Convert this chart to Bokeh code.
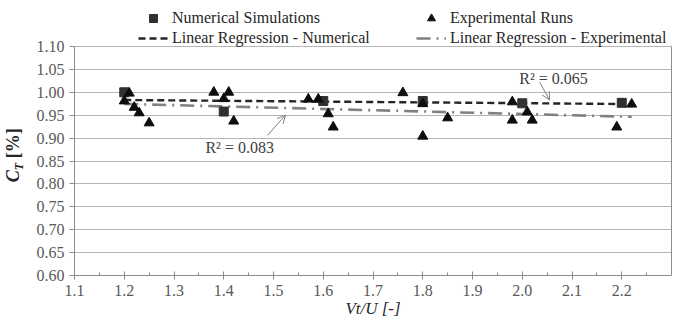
import numpy as np
from bokeh.plotting import figure
from bokeh.layouts import row
from bokeh.models import (Range1d, SingleIntervalTicker, FixedTicker, NumeralTickFormatter, Legend,
                          LegendItem, Label, Arrow, OpenHead, Div, LinearAxis)
from bokeh.embed import file_html
from bokeh.resources import INLINE

# ---- data ----
num_x = [1.2, 1.4, 1.6, 1.8, 2.0, 2.2]
num_y = [1.000, 0.958, 0.981, 0.981, 0.976, 0.977]

exp_x = [1.20, 1.21, 1.22, 1.23, 1.25, 1.38, 1.40, 1.41, 1.42, 1.57, 1.59, 1.61, 1.62,
         1.76, 1.80, 1.80, 1.85, 1.98, 1.98, 2.01, 2.02, 2.19, 2.22]
exp_y = [0.981, 0.998, 0.967, 0.955, 0.933, 1.000, 0.986, 1.000, 0.937, 0.985, 0.985, 0.953, 0.924,
         0.999, 0.904, 0.975, 0.944, 0.979, 0.939, 0.957, 0.939, 0.924, 0.974]

y_ticks = [0.60, 0.65, 0.70, 0.75, 0.80, 0.85, 0.90, 0.95, 1.00, 1.05, 1.10]
x_min, x_max = 1.1, 2.3
y_min, y_max = 0.60, 1.10

r2_num_text = "R² = 0.065"
r2_exp_text = "R² = 0.083"

SERIF = "Liberation Serif"

def fit_line(xs, ys):
    k, b = np.polyfit(xs, ys, 1)
    x0, x1 = min(xs), max(xs)
    return [x0, x1], [k * x0 + b, k * x1 + b]

# layout geometry (pixels)
YDIV_W = 24
W, H = 679, 326
FRAME_L, FRAME_R, FRAME_B = 74, 671, 275
AXIS_TOP = 46          # pixel row of y_max
FRAME_T = 6            # frame extends above the axis so the legend can sit inside it
px_per_unit = (FRAME_B - AXIS_TOP) / (y_max - y_min)
y_top = y_max + (AXIS_TOP - FRAME_T) / px_per_unit

p = figure(width=W - YDIV_W, height=H, output_backend="svg", toolbar_location=None,
           x_range=Range1d(x_min, x_max), y_range=Range1d(y_min, y_top),
           min_border_left=FRAME_L - YDIV_W, min_border_right=W - FRAME_R,
           min_border_top=FRAME_T, min_border_bottom=H - FRAME_B)
p.background_fill_color = "white"
p.border_fill_color = "white"
p.outline_line_color = None

# axes
p.xaxis.ticker = SingleIntervalTicker(interval=0.1, num_minor_ticks=2)
p.yaxis.ticker = FixedTicker(ticks=y_ticks)
p.yaxis.bounds = (y_min, y_max)
p.xaxis.formatter = NumeralTickFormatter(format="0.0")
p.yaxis.formatter = NumeralTickFormatter(format="0.00")
for ax in (p.xaxis[0], p.yaxis[0]):
    ax.axis_line_color = "#8c8c8c"
    ax.major_tick_line_color = "#8c8c8c"
    ax.minor_tick_line_color = "#8c8c8c"
    ax.major_label_text_font = SERIF
    ax.major_label_text_font_size = "16px"
    ax.major_label_text_color = "#595959"
p.xaxis.major_tick_in = 4
p.xaxis.major_tick_out = 4
p.xaxis.minor_tick_in = 3
p.xaxis.minor_tick_out = 0
p.xaxis.major_label_standoff = 5
p.yaxis.major_tick_in = 0
p.yaxis.major_tick_out = 5
p.yaxis.minor_tick_in = 0
p.yaxis.minor_tick_out = 0
p.yaxis.major_label_standoff = 5

p.xaxis.axis_label = "Vt/U [-]"
p.xaxis.axis_label_text_font = SERIF
p.xaxis.axis_label_text_font_style = "italic"
p.xaxis.axis_label_text_font_size = "17px"
p.xaxis.axis_label_text_color = "#262626"
p.xaxis.axis_label_standoff = 0

# right border of the plot area (an axis with no ticks)
right_axis = LinearAxis(ticker=FixedTicker(ticks=[]), bounds=(y_min, y_max),
                        axis_line_color="#8c8c8c", major_tick_line_color=None,
                        minor_tick_line_color=None, major_label_standoff=0,
                        major_tick_out=0, major_tick_in=0, axis_label_standoff=0)
p.add_layout(right_axis, "right")

p.xgrid.grid_line_color = None
p.ygrid.grid_line_color = "#b5b5b5"
p.ygrid.grid_line_width = 1.2

# regression lines
nx, ny = fit_line(num_x, num_y)
ex, ey = fit_line(exp_x, exp_y)
r_exp = p.line(ex, ey, line_color="#808080", line_width=2.6, line_dash="14 6 2 6")
r_num = p.line(nx, ny, line_color="#262626", line_width=2.4, line_dash="7 4")

# markers
r_sq = p.scatter(num_x, num_y, marker="square", size=9, fill_color="#303030", line_color="#303030")
r_tri = p.scatter(exp_x, exp_y, marker="triangle", size=10, fill_color="#0d0d0d", line_color="#0d0d0d")

legend = Legend(items=[
    LegendItem(label="Numerical Simulations", renderers=[r_sq]),
    LegendItem(label="Experimental Runs", renderers=[r_tri]),
    LegendItem(label="Linear Regression - Numerical", renderers=[r_num]),
    LegendItem(label="Linear Regression - Experimental", renderers=[r_exp]),
], orientation="horizontal", ncols=2, location=(64, FRAME_B - 48),
    border_line_color=None, background_fill_alpha=0, padding=0, margin=0, spacing=0,
    glyph_width=30, glyph_height=20, label_height=20, label_width=244, label_standoff=4,
    label_text_font=SERIF, label_text_font_size="16px", label_text_color="#262626")
p.add_layout(legend, "center")

# R² annotations
p.add_layout(Label(x=2.063, y=1.031, text=r2_num_text, text_font=SERIF, text_font_size="16px",
                   text_color="#404040", text_baseline="middle", text_align="center"))
p.add_layout(Arrow(end=OpenHead(size=8, line_color="#7f7f7f", line_width=1),
                   x_start=2.035, y_start=1.022, x_end=2.055, y_end=0.983,
                   line_color="#7f7f7f", line_width=1))
p.add_layout(Label(x=1.432, y=0.880, text=r2_exp_text, text_font=SERIF, text_font_size="16px",
                   text_color="#404040", text_baseline="middle", text_align="center"))
p.add_layout(Arrow(end=OpenHead(size=8, line_color="#7f7f7f", line_width=1),
                   x_start=1.488, y_start=0.906, x_end=1.524, y_end=0.950,
                   line_color="#7f7f7f", line_width=1))

# y-axis title with subscript, as rotated HTML text
ylabel = Div(
    text=('<span style="display:inline-block; white-space:nowrap; font-family:\'Liberation Serif\';'
          ' font-size:18px; font-weight:bold; color:#262626; line-height:20px;'
          ' transform: translate(-11px, 142px) rotate(-90deg);">'
          '<i>C<sub style="font-size:12px">T</sub></i> [%]</span>'),
    width=YDIV_W, height=H, margin=0, styles={"overflow": "visible"})

layout = row(ylabel, p, spacing=0)
open("out.html", "w").write(file_html(layout, INLINE))
